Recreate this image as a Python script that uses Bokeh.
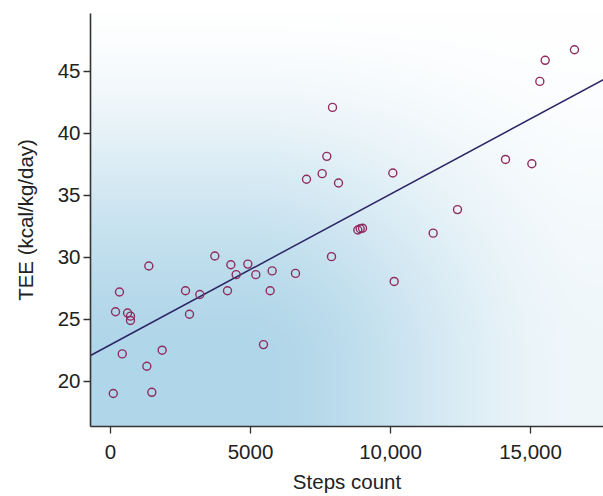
import numpy as np
from bokeh.plotting import figure
from bokeh.models import Range1d, FixedTicker, ColumnDataSource
from bokeh.embed import file_html
from bokeh.resources import INLINE

# Data
steps = [100, 180, 320, 420, 610, 714, 714, 1369, 1298, 1476, 1845, 2679, 2821, 3190,
         3726, 4179, 4298, 4488, 4905, 5190, 5464, 5702, 5774, 6607, 7893, 10131,
         7000, 7560, 7726, 7929, 8143, 8833, 8917, 9000, 10083, 11524, 12393, 14107,
         15048, 15333, 15524, 16571]
tee = [19.0, 25.6, 27.2, 22.2, 25.5, 25.25, 24.9, 29.3, 21.2, 19.1, 22.5, 27.3, 25.4, 27.0,
       30.1, 27.3, 29.4, 28.6, 29.45, 28.6, 22.95, 27.3, 28.9, 28.7, 30.05, 28.05,
       36.3, 36.75, 38.15, 42.1, 36.0, 32.2, 32.3, 32.35, 36.8, 31.95, 33.85, 37.9,
       37.55, 44.2, 45.9, 46.75]

fit_intercept = 22.94
fit_slope = 0.001216

x_ticks = [0, 5000, 10000, 15000]
x_tick_labels = {10000: "10,000", 15000: "15,000"}
y_ticks = [20, 25, 30, 35, 40, 45]

X0, X1 = -714, 17607
Y0, Y1 = 16.34, 49.68

p = figure(width=603, height=496, output_backend="svg", toolbar_location=None,
           x_range=Range1d(X0, X1), y_range=Range1d(Y0, Y1),
           min_border_left=90, min_border_right=0, min_border_top=13, min_border_bottom=70)
p.outline_line_color = None
p.background_fill_color = "white"
p.border_fill_color = "white"
p.grid.visible = False

# gradient background (style only)
def smooth(s):
    s = np.clip(s, 0, 1)
    return 3 * s ** 2 - 2 * s ** 3

nx, ny = 240, 200
u = np.linspace(0, 1, nx)[None, :]
v = np.linspace(0, 1, ny)[:, None]
fu = 1 - 0.8 * smooth((u - 0.3) / 0.68)
gv = 1 - smooth((v - 0.15) / 0.9)
inten = fu * gv
base = np.array([176, 214, 233], dtype=float)
rgb = 255 - inten[..., None] * (255 - base[None, None, :])
img = np.empty((ny, nx), dtype=np.uint32)
view = img.view(dtype=np.uint8).reshape((ny, nx, 4))
view[..., 0] = rgb[..., 0].astype(np.uint8)
view[..., 1] = rgb[..., 1].astype(np.uint8)
view[..., 2] = rgb[..., 2].astype(np.uint8)
view[..., 3] = 255
p.image_rgba(image=[img], x=X0, y=Y0, dw=X1 - X0, dh=Y1 - Y0)

# regression line
lx = [X0, X1]
ly = [fit_intercept + fit_slope * xx for xx in lx]
p.line(lx, ly, line_color="#2b2566", line_width=1.5)

src = ColumnDataSource(dict(x=steps, y=tee))
p.scatter("x", "y", source=src, size=8, marker="circle", fill_color=None,
          line_color="#8e2d5f", line_width=1.4)

for ax in (p.xaxis, p.yaxis):
    ax.axis_line_color = "#333333"
    ax.axis_line_width = 1.6
    ax.major_tick_line_color = "#333333"
    ax.major_tick_line_width = 1.3
    ax.major_tick_out = 7
    ax.major_tick_in = 0
    ax.minor_tick_line_color = None
    ax.major_label_text_font = "Liberation Sans"
    ax.major_label_text_font_size = "20.5px"
    ax.major_label_text_color = "#222222"
    ax.axis_label_text_font = "Liberation Sans"
    ax.axis_label_text_font_size = "20.5px"
    ax.axis_label_text_font_style = "normal"
    ax.axis_label_text_color = "#222222"

p.xaxis.ticker = FixedTicker(ticks=x_ticks)
p.xaxis.major_label_overrides = x_tick_labels
p.xaxis.axis_label = "Steps count"
p.xaxis.major_label_standoff = 11
p.xaxis.axis_label_standoff = 8

p.yaxis.ticker = FixedTicker(ticks=y_ticks)
p.yaxis.axis_label = "TEE (kcal/kg/day)"
p.yaxis.major_label_standoff = 3
p.yaxis.axis_label_standoff = 18

open("out.html", "w").write(file_html(p, INLINE))
